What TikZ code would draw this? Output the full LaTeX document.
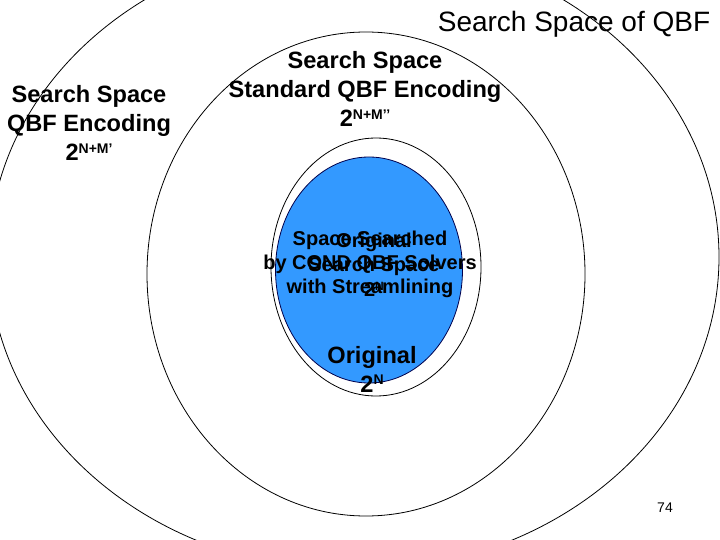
\documentclass[tikz,border=0pt]{standalone}
\usepackage{fontspec}
\setmainfont{Liberation Sans}
\usetikzlibrary{shapes.geometric}
\definecolor{fillblue}{RGB}{51,153,255}
\newcommand{\pow}[2][14]{2\raisebox{.3em}{\fontsize{#1}{#1}\selectfont #2}}

\begin{document}
\begin{tikzpicture}[x=1pt, y=-1pt,
        space/.style={ellipse, draw, line width=0.8pt, inner sep=0pt},
        heading/.style={font=\bfseries\fontsize{23.6}{29}\selectfont, align=center, inner sep=0pt, anchor=north},
        blurb/.style={font=\bfseries\fontsize{20}{24.3}\selectfont, align=center, inner sep=0pt, anchor=north}
    ]
    \useasboundingbox (0,0) rectangle (720,540);
    \clip (0,0) rectangle (720,540);
    \node[space, minimum width=730pt, minimum height=628pt] (qbfenc) at (354,257) {};
    \node[space, minimum width=438pt, minimum height=484pt] (stdenc) at (366,274) {};
    \node[space, minimum width=210pt, minimum height=258pt] (orig) at (376,267) {};
    \node[space, fill=fillblue, draw=black!70!blue, minimum width=187pt, minimum height=226pt] (searched) at (369,270) {};

    \node[font=\fontsize{28}{28}\selectfont, anchor=base, inner sep=0pt] (title) at (574,32) {Search Space of QBF};
    \node[heading] (qbfenclabel) at (89,85.5) {Search Space\\QBF Encoding\\\pow{N+M’}};
    \node[heading] (stdenclabel) at (365,51.6) {Search Space\\Standard QBF Encoding\\\pow{N+M’’}};
    \node[blurb] (origlabel) at (374,233) {Original\\Search Space\\\pow[12]{N}};
    \node[blurb] (searchedlabel) at (370,230.4) {Space Searched\\by COND QBF Solvers\\with Streamlining};
    \node[heading] (origbottom) at (372,345.7) {Original\\\pow{N}};
    \node[font=\fontsize{14}{14}\selectfont, anchor=base, inner sep=0pt] (page) at (665,512) {74};
\end{tikzpicture}
\end{document}
